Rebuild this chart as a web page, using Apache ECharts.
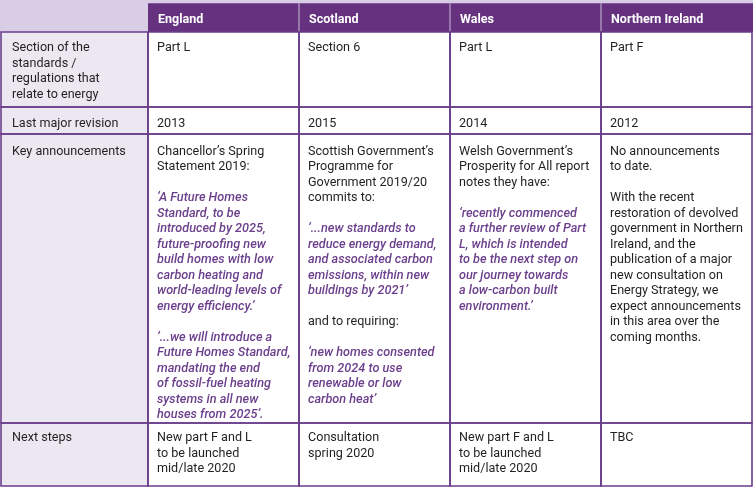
<!DOCTYPE html>
<html>
<head>
<meta charset="utf-8">
<script src="https://cdn.jsdelivr.net/npm/echarts@6/dist/echarts.min.js"></script>
<style>
html,body{margin:0;padding:0;background:#fff;}
#chart{width:753px;height:487px;}
</style>
</head>
<body>
<div id="chart"></div>
<script>
// ---- data ----
const countries = ['England', 'Scotland', 'Wales', 'Northern Ireland'];
const rowLabels = [
  ['Section of the', 'standards /', 'regulations that', 'relate to energy'],
  ['Last major revision'],
  ['Key announcements'],
  ['Next steps']
];
const sectionParts = ['Part L', 'Section 6', 'Part L', 'Part F'];
const lastRevision = ['2013', '2015', '2014', '2012'];
// lines starting with '*' are italic quotes
const keyAnnouncements = [
  ['Chancellor’s Spring', 'Statement 2019:', '',
   '*‘A Future Homes', '*Standard, to be', '*introduced by 2025,', '*future-proofing new',
   '*build homes with low', '*carbon heating and', '*world-leading levels of', '*energy efficiency.’', '',
   '*‘...we will introduce a', '*Future Homes Standard,', '*mandating the end',
   '*of fossil-fuel heating', '*systems in all new', '*houses from 2025’.'],
  ['Scottish Government’s', 'Programme for', 'Government 2019/20', 'commits to:', '',
   '*‘...new standards to', '*reduce energy demand,', '*and associated carbon', '*emissions, within new',
   '*buildings by 2021’', '', 'and to requiring:', '',
   '*‘new homes consented', '*from 2024 to use', '*renewable or low', '*carbon heat’'],
  ['Welsh Government’s', 'Prosperity for All report', 'notes they have:', '',
   '*‘recently commenced', '*a further review of Part', '*L, which is intended', '*to be the next step on',
   '*our journey towards', '*a low-carbon built', '*environment.’'],
  ['No announcements', 'to date.', '', 'With the recent', 'restoration of devolved',
   'government in Northern', 'Ireland, and the', 'publication of a major', 'new consultation on',
   'Energy Strategy, we', 'expect announcements', 'in this area over the', 'coming months.']
];
const nextSteps = [
  ['New part F and L', 'to be launched', 'mid/late 2020'],
  ['Consultation', 'spring 2020'],
  ['New part F and L', 'to be launched', 'mid/late 2020'],
  ['TBC']
];

// ---- layout (axis units = pixels) ----
const colEdges = [1, 148, 299, 450, 601, 752];
const rowEdges = [3.3, 32, 107, 134, 423, 486];
const LINE_H = 15.5;
const FIRST_LINE = [16.2, 16.8, 17.5, 15.2];

const C_HEAD = '#66327f';
const C_HEAD_LIGHT = '#d9cde6';
const C_FIRSTCOL = '#ece8f2';
const C_BORDER = '#6a3d8a';
const C_TEXT = '#231f20';
const C_QUOTE = '#6b3f8c';

const bodyRows = [
  sectionParts.map(s => [s]),
  lastRevision.map(s => [s]),
  keyAnnouncements,
  nextSteps
];

const cellData = [];
for (let r = 0; r < 5; r++) for (let c = 0; c < 5; c++) cellData.push([c, r]);

function cellLines(c, r) {
  if (r === 0) return c === 0 ? [] : [countries[c - 1]];
  if (c === 0) return rowLabels[r - 1];
  return bodyRows[r - 1][c - 1];
}

const chart = echarts.init(document.getElementById('chart'), null, {renderer: 'canvas'});
chart.setOption({
  animation: false,
  backgroundColor: '#ffffff',
  grid: {left: 0, right: 0, top: 0, bottom: 0},
  xAxis: {type: 'value', min: 0, max: 753, show: false},
  yAxis: {type: 'value', min: 0, max: 487, inverse: true, show: false},
  series: [{
    type: 'custom',
    clip: false,
    data: cellData,
    renderItem: function (params, api) {
      const c = api.value(0), r = api.value(1);
      const p0 = api.coord([colEdges[c], rowEdges[r]]);
      const p1 = api.coord([colEdges[c + 1], rowEdges[r + 1]]);
      const children = [];
      const lines = cellLines(c, r);
      if (r === 0) {
        const top = api.coord([c === 0 ? 0 : colEdges[c], 0]);
        const right = c === 4 ? api.coord([753, 0])[0] : p1[0];
        children.push({type: 'rect', shape: {x: top[0], y: top[1], width: right - top[0], height: p1[1] - top[1]},
          style: {fill: C_HEAD_LIGHT}});
        if (c > 0) {
          children.push({type: 'rect', shape: {x: p0[0], y: p0[1], width: right - p0[0], height: p1[1] - p0[1]},
            style: {fill: C_HEAD}});
          if (c > 1) {
            children.push({type: 'line', shape: {x1: p0[0], y1: p0[1], x2: p0[0], y2: p1[1]},
              style: {stroke: '#b9a6cc', lineWidth: 1.2}});
          }
          children.push({type: 'text', x: p0[0] + 10, y: (p0[1] + p1[1]) / 2 + 2,
            style: {text: lines[0], fill: '#ffffff', font: 'bold 12.5px Roboto', verticalAlign: 'middle', align: 'left'}});
        }
      } else {
        children.push({type: 'rect', shape: {x: p0[0], y: p0[1], width: p1[0] - p0[0], height: p1[1] - p0[1]},
          style: {fill: c === 0 ? C_FIRSTCOL : '#ffffff'}});
        const tx = p0[0] + (c === 0 ? 11 : 9);
        lines.forEach(function (ln, i) {
          if (!ln) return;
          const italic = ln.charAt(0) === '*';
          children.push({type: 'text', x: tx, y: p0[1] + FIRST_LINE[r - 1] + i * LINE_H,
            style: {
              text: italic ? ln.slice(1) : ln,
              fill: italic ? C_QUOTE : C_TEXT,
              font: italic ? 'italic 500 12.7px Roboto' : '12.6px Roboto',
              verticalAlign: 'middle', align: 'left'
            }});
        });
        children.push({type: 'rect', shape: {x: p0[0], y: p0[1], width: p1[0] - p0[0], height: p1[1] - p0[1]},
          style: {fill: 'none', stroke: C_BORDER, lineWidth: 1.6}, z2: 10});
      }
      return {type: 'group', children: children};
    }
  }]
});
</script>
</body>
</html>
